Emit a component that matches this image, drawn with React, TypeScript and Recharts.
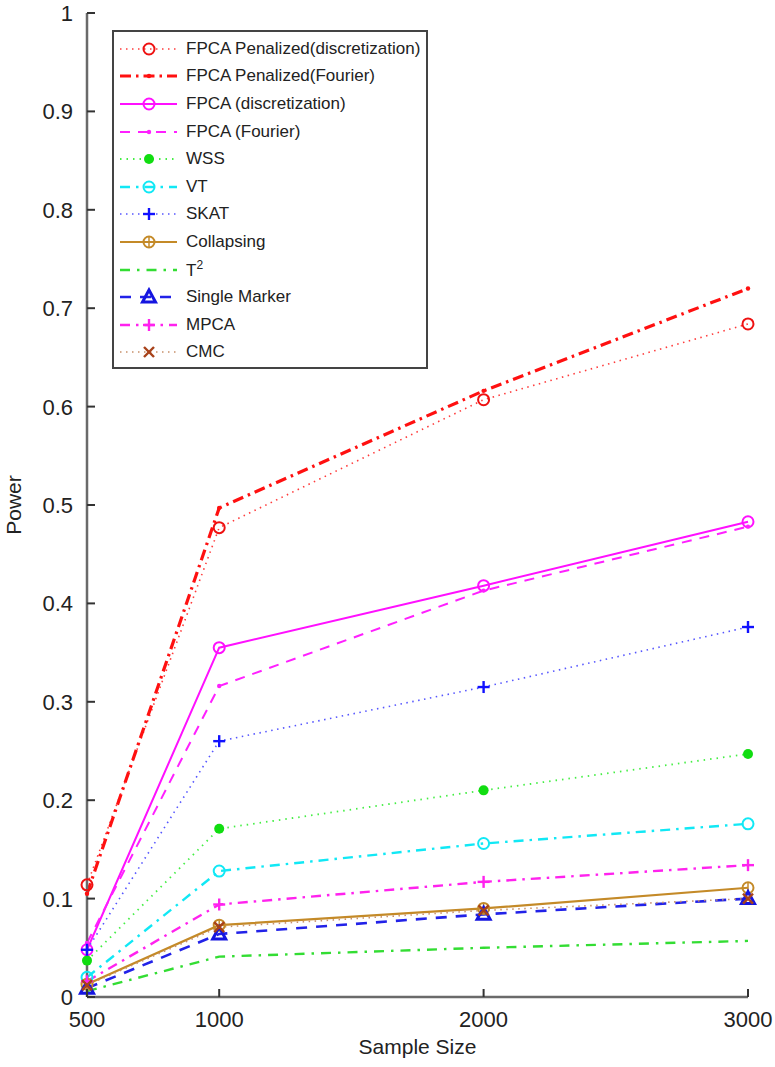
import React from 'react'
import { LineChart, Line, XAxis, YAxis } from 'recharts'

// sample sizes on the x axis
const sampleSizes = [500, 1000, 2000, 3000]
const xTicks = [500, 1000, 2000, 3000]
const yTicks = [0, 0.1, 0.2, 0.3, 0.4, 0.5, 0.6, 0.7, 0.8, 0.9, 1]

// power per method
const fpcaPenDisc = [0.114, 0.477, 0.607, 0.684]
const fpcaPenFourier = [0.105, 0.497, 0.616, 0.72]
const fpcaDisc = [0.048, 0.355, 0.418, 0.483]
const fpcaFourier = [0.055, 0.316, 0.413, 0.478]
const wss = [0.037, 0.171, 0.21, 0.247]
const vt = [0.02, 0.128, 0.156, 0.176]
const skat = [0.048, 0.26, 0.315, 0.376]
const collapsing = [0.013, 0.073, 0.09, 0.111]
const t2 = [0.006, 0.041, 0.05, 0.057]
const singleMarker = [0.009, 0.064, 0.084, 0.1]
const mpca = [0.016, 0.094, 0.117, 0.134]
const cmc = [0.012, 0.071, 0.088, 0.1]

type MarkerKind = 'circle' | 'dot' | 'smalldot' | 'plus' | 'tri' | 'x' | 'ocircle' | 'none'

interface Series {
  key: string
  label: React.ReactNode
  values: number[]
  color: string
  markerColor: string
  width: number
  dash?: string
  marker: MarkerKind
}

const series: Series[] = [
  { key: 'fpcaPenDisc', label: 'FPCA Penalized(discretization)', values: fpcaPenDisc, color: '#ff3b3b', markerColor: '#ee1111', width: 1.6, dash: '1.5 4.5', marker: 'circle' },
  { key: 'fpcaPenFourier', label: 'FPCA Penalized(Fourier)', values: fpcaPenFourier, color: '#ff1010', markerColor: '#ff1010', width: 3.2, dash: '11 5 2.5 5', marker: 'smalldot' },
  { key: 'fpcaDisc', label: 'FPCA (discretization)', values: fpcaDisc, color: '#ff10ff', markerColor: '#ff10ff', width: 2, marker: 'circle' },
  { key: 'fpcaFourier', label: 'FPCA (Fourier)', values: fpcaFourier, color: '#ff20ff', markerColor: '#ff20ff', width: 2, dash: '10 8', marker: 'smalldot' },
  { key: 'wss', label: 'WSS', values: wss, color: '#44ee44', markerColor: '#11dd11', width: 1.8, dash: '1.5 5', marker: 'dot' },
  { key: 'vt', label: 'VT', values: vt, color: '#11e8f5', markerColor: '#11e8f5', width: 2.4, dash: '10 6 2.5 6', marker: 'circle' },
  { key: 'skat', label: 'SKAT', values: skat, color: '#5555ff', markerColor: '#1111ff', width: 1.6, dash: '1.5 4.5', marker: 'plus' },
  { key: 'collapsing', label: 'Collapsing', values: collapsing, color: '#c48a28', markerColor: '#c48a28', width: 2.2, marker: 'ocircle' },
  { key: 't2', label: <span>T<sup style={{ fontSize: 12 }}>2</sup></span>, values: t2, color: '#33dd33', markerColor: '#33dd33', width: 2.4, dash: '10 7 2.5 7', marker: 'none' },
  { key: 'singleMarker', label: 'Single Marker', values: singleMarker, color: '#2222e8', markerColor: '#1515e0', width: 2.6, dash: '11 9', marker: 'tri' },
  { key: 'mpca', label: 'MPCA', values: mpca, color: '#ff22ee', markerColor: '#ff22ee', width: 2.4, dash: '10 6 2.5 6', marker: 'plus' },
  { key: 'cmc', label: 'CMC', values: cmc, color: '#c8906a', markerColor: '#a8421a', width: 1.6, dash: '1.5 4.5', marker: 'x' },
]

const data = sampleSizes.map((n, i) => {
  const row: Record<string, number> = { n }
  series.forEach((s) => (row[s.key] = s.values[i]))
  return row
})

const FONT = "'Liberation Sans', Arial, Helvetica, sans-serif"
const AXIS = '#6a6a6a'
const TICK_GAP = 14
const TICK_LEN = 8

function Marker({ kind, cx, cy, color }: { kind: MarkerKind; cx: number; cy: number; color: string }) {
  switch (kind) {
    case 'circle':
      return <circle cx={cx} cy={cy} r={5.5} fill="none" stroke={color} strokeWidth={2} />
    case 'ocircle':
      return (
        <g>
          <circle cx={cx} cy={cy} r={5.5} fill="none" stroke={color} strokeWidth={2} />
          <line x1={cx} x2={cx} y1={cy - 5} y2={cy + 5} stroke={color} strokeWidth={1.5} />
        </g>
      )
    case 'dot':
      return <circle cx={cx} cy={cy} r={5} fill={color} />
    case 'smalldot':
      return <circle cx={cx} cy={cy} r={2.2} fill={color} />
    case 'plus':
      return (
        <g stroke={color} strokeWidth={2.4}>
          <line x1={cx - 6} x2={cx + 6} y1={cy} y2={cy} />
          <line x1={cx} x2={cx} y1={cy - 6} y2={cy + 6} />
        </g>
      )
    case 'tri':
      return (
        <polygon
          points={`${cx},${cy - 7} ${cx - 6.5},${cy + 5} ${cx + 6.5},${cy + 5}`}
          fill="none"
          stroke={color}
          strokeWidth={3}
        />
      )
    case 'x':
      return (
        <g stroke={color} strokeWidth={2.4}>
          <line x1={cx - 5} x2={cx + 5} y1={cy - 5} y2={cy + 5} />
          <line x1={cx - 5} x2={cx + 5} y1={cy + 5} y2={cy - 5} />
        </g>
      )
    default:
      return null
  }
}

const LeftTick = (props: any) => {
  const { x, y, payload } = props
  const ax = x + TICK_GAP
  return (
    <g>
      <line x1={ax} x2={ax + TICK_LEN} y1={y} y2={y} stroke="#333" strokeWidth={2} />
      <text x={x} y={y} dy="0.36em" textAnchor="end" fontFamily={FONT} fontSize={22} fill="#222">
        {payload.value}
      </text>
    </g>
  )
}

const RightTick = (props: any) => {
  const { x, y } = props
  const ax = x - TICK_GAP
  return <line x1={ax} x2={ax - TICK_LEN} y1={y} y2={y} stroke="#333" strokeWidth={2} />
}

const BottomTick = (props: any) => {
  const { x, y, payload } = props
  const ay = y - TICK_GAP
  return (
    <g>
      <line x1={x} x2={x} y1={ay} y2={ay - TICK_LEN} stroke="#333" strokeWidth={2} />
      <text x={x} y={y} dy="0.72em" textAnchor="middle" fontFamily={FONT} fontSize={22} fill="#222">
        {payload.value}
      </text>
    </g>
  )
}

const TopTick = (props: any) => {
  const { x, y } = props
  const ay = y + TICK_GAP
  return <line x1={x} x2={x} y1={ay} y2={ay + TICK_LEN} stroke="#333" strokeWidth={2} />
}

function Legend() {
  return (
    <div
      style={{
        position: 'absolute',
        left: 112,
        top: 30,
        width: 316,
        height: 339,
        border: '2px solid #444',
        background: '#fff',
        paddingTop: 3,
        boxSizing: 'border-box',
        fontFamily: FONT,
        fontSize: 17,
        color: '#222',
      }}
    >
      {series.map((s) => (
        <div key={s.key} style={{ display: 'flex', alignItems: 'center', height: 27.6 }}>
          <svg width={72} height={20} style={{ flex: 'none' }}>
            <line x1={6} x2={63} y1={10} y2={10} stroke={s.color} strokeWidth={s.width} strokeDasharray={s.dash} />
            <Marker kind={s.marker} cx={35} cy={10} color={s.markerColor} />
          </svg>
          <span style={{ whiteSpace: 'nowrap' }}>{s.label}</span>
        </div>
      ))}
    </div>
  )
}

export default function App() {
  return (
    <div style={{ position: 'absolute', left: 0, top: 0, width: 775, height: 1067, background: '#fff' }}>
      <LineChart width={775} height={1067} data={data} margin={{ top: 13, right: 27, bottom: 0, left: 0 }}>
        <XAxis
          dataKey="n"
          type="number"
          domain={[500, 3000]}
          ticks={xTicks}
          interval={0}
          height={70}
          tickSize={0}
          tickMargin={TICK_GAP}
          tickLine={false}
          tick={<BottomTick />}
          axisLine={{ stroke: AXIS, strokeWidth: 2.5 }}
          label={{
            content: ({ viewBox }: any) => (
              <text
                x={viewBox.x + viewBox.width / 2}
                y={viewBox.y + 57}
                textAnchor="middle"
                fontFamily={FONT}
                fontSize={21}
                fill="#222"
              >
                Sample Size
              </text>
            ),
          }}
        />
        <XAxis
          xAxisId="top"
          orientation="top"
          dataKey="n"
          type="number"
          domain={[500, 3000]}
          ticks={xTicks}
          interval={0}
          height={0}
          tickSize={0}
          tickMargin={TICK_GAP}
          tickLine={false}
          tick={<TopTick />}
          axisLine={{ stroke: AXIS, strokeWidth: 2 }}
        />
        <YAxis
          type="number"
          domain={[0, 1]}
          ticks={yTicks}
          interval={0}
          width={87}
          tickSize={0}
          tickMargin={TICK_GAP}
          tickLine={false}
          tick={<LeftTick />}
          axisLine={{ stroke: AXIS, strokeWidth: 2.5 }}
          label={{
            content: ({ viewBox }: any) => {
              const cx = viewBox.x + 13
              const cy = viewBox.y + viewBox.height / 2
              return (
                <text
                  x={cx}
                  y={cy}
                  transform={`rotate(-90 ${cx} ${cy})`}
                  textAnchor="middle"
                  dominantBaseline="central"
                  fontFamily={FONT}
                  fontSize={21}
                  fill="#222"
                >
                  Power
                </text>
              )
            },
          }}
        />
        <YAxis
          yAxisId="right"
          orientation="right"
          type="number"
          domain={[0, 1]}
          ticks={yTicks}
          interval={0}
          width={0}
          tickSize={0}
          tickMargin={TICK_GAP}
          tickLine={false}
          tick={<RightTick />}
          axisLine={{ stroke: AXIS, strokeWidth: 2.5 }}
        />
        {series.map((s) => (
          <Line
            key={s.key}
            dataKey={s.key}
            type="linear"
            stroke={s.color}
            strokeWidth={s.width}
            strokeDasharray={s.dash}
            isAnimationActive={false}
            dot={(p: any) => (
              <Marker key={`${s.key}-${p.index}`} kind={s.marker} cx={p.cx} cy={p.cy} color={s.markerColor} />
            )}
            activeDot={false}
          />
        ))}
      </LineChart>
      <Legend />
    </div>
  )
}
